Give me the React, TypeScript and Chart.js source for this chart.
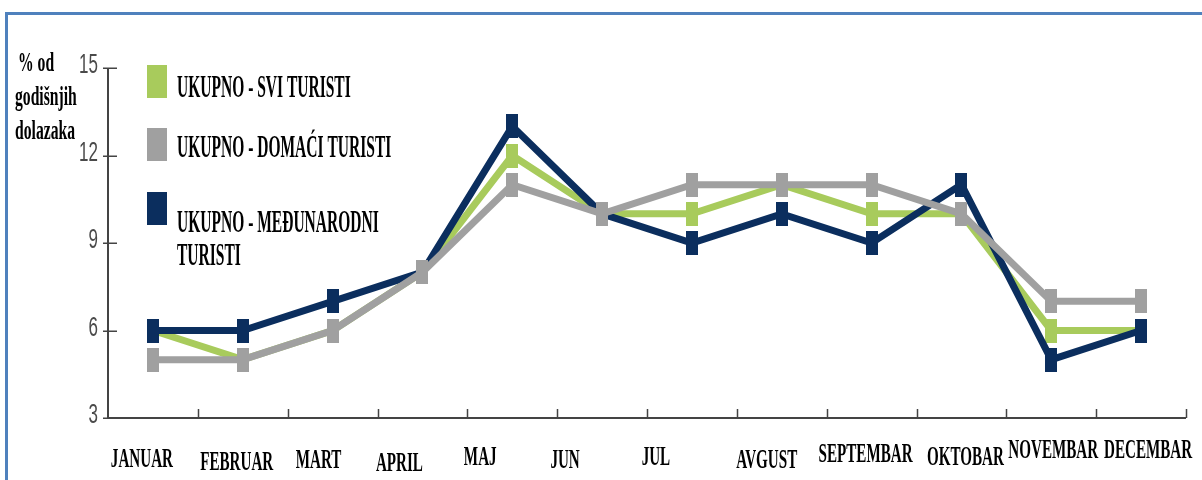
import { useEffect, useRef } from "react";
import { Chart, registerables } from "chart.js";

Chart.register(...registerables);

// ---- data ----
const months = [
  "JANUAR", "FEBRUAR", "MART", "APRIL", "MAJ", "JUN",
  "JUL", "AVGUST", "SEPTEMBAR", "OKTOBAR", "NOVEMBAR", "DECEMBAR",
];
const sviTuristi = [6, 5, 6, 8, 12, 10, 10, 11, 10, 10, 6, 6];
const domaciTuristi = [5, 5, 6, 8, 11, 10, 11, 11, 11, 10, 7, 7];
const medjunarodniTuristi = [6, 6, 7, 8, 13, 10, 9, 10, 9, 11, 5, 6];
const seriesLabels = [
  "UKUPNO - SVI TURISTI",
  "UKUPNO - DOMAĆI TURISTI",
  "UKUPNO - MEĐUNARODNI TURISTI",
];
const yAxisTitle = ["% od", "godišnjih", "dolazaka"];
const yMin = 3;
const yMax = 15;
const yStep = 3;

// ---- styles ----
const GREEN = "#A8CB5C";
const GRAY = "#A0A0A0";
const NAVY = "#0B2E5E";
const SERIF = "'Liberation Serif', 'Times New Roman', serif";
const SANS = "'Liberation Sans', Arial, sans-serif";

function makeMarker(color: string) {
  const c = document.createElement("canvas");
  c.width = 12;
  c.height = 24;
  const g = c.getContext("2d")!;
  g.fillStyle = color;
  g.fillRect(0, 0, 12, 24);
  return c;
}

function drawText(
  ctx: CanvasRenderingContext2D,
  text: string,
  x: number,
  y: number,
  font: string,
  sx: number,
  align: CanvasTextAlign,
  baseline: CanvasTextBaseline,
  color: string
) {
  ctx.save();
  ctx.translate(x, y);
  ctx.scale(sx, 1);
  ctx.font = font;
  ctx.textAlign = align;
  ctx.textBaseline = baseline;
  ctx.fillStyle = color;
  ctx.fillText(text, 0, 0);
  ctx.restore();
}

// small nudges of the month labels as placed in the original figure
const xLabelDx = [-11, -6, -14, -23, -32, -37, -36, -15, -6, 4, 2, 7];
const xLabelBaseline = [467, 470, 468, 471, 465, 468, 465, 468, 462, 465, 458, 458];

const decorPlugin = {
  id: "decor",
  beforeDraw(chart: any) {
    const ctx = chart.ctx as CanvasRenderingContext2D;
    ctx.save();
    ctx.fillStyle = "#ffffff";
    ctx.fillRect(0, 0, chart.width, chart.height);
    ctx.strokeStyle = "#4F81BD";
    ctx.lineWidth = 3;
    ctx.strokeRect(6.5, 13.5, chart.width + 50, chart.height + 50);
    ctx.restore();
  },
  beforeDatasetsDraw(chart: any) {
    const ctx = chart.ctx as CanvasRenderingContext2D;
    const { left, right, top, bottom } = chart.chartArea;
    const xs = chart.scales.x;
    const ys = chart.scales.y;
    ctx.save();
    ctx.strokeStyle = "#444";
    ctx.lineWidth = 2;
    ctx.beginPath();
    ctx.moveTo(left, top);
    ctx.lineTo(left, bottom);
    ctx.moveTo(left - 1, bottom);
    ctx.lineTo(right, bottom);
    ctx.stroke();
    // y ticks crossing the axis
    ctx.lineWidth = 1.5;
    ctx.beginPath();
    ys.ticks.forEach((t: any) => {
      const y = Math.round(ys.getPixelForValue(t.value)) + 0.25;
      ctx.moveTo(left - 5, y);
      ctx.lineTo(left + 9, y);
    });
    ctx.stroke();
    // x ticks at category boundaries, pointing up
    const half = (xs.getPixelForValue(1) - xs.getPixelForValue(0)) / 2;
    ctx.beginPath();
    for (let i = 0; i < months.length; i++) {
      const x = Math.round(xs.getPixelForValue(i) + half) + 0.5;
      ctx.moveTo(x, bottom - 9);
      ctx.lineTo(x, bottom);
    }
    ctx.stroke();
    ctx.restore();
  },
  afterDraw(chart: any) {
    const ctx = chart.ctx as CanvasRenderingContext2D;
    const { left } = chart.chartArea;
    const xs = chart.scales.x;
    const ys = chart.scales.y;

    // y tick labels
    ys.ticks.forEach((t: any) => {
      const y = ys.getPixelForValue(t.value);
      drawText(ctx, String(t.value), left - 10, y - 2, `27px ${SANS}`, 0.63, "right", "middle", "#4a4a4a");
    });

    // x labels
    chart.data.labels.forEach((lab: string, i: number) => {
      const x = xs.getPixelForValue(i) + xLabelDx[i];
      drawText(ctx, lab, x, xLabelBaseline[i], `bold 28px ${SERIF}`, 0.54, "center", "alphabetic", "#000");
    });

    // y axis title
    const titleX = [18, 15, 15];
    const titleY = [71, 105, 139];
    yAxisTitle.forEach((line, i) => {
      drawText(ctx, line, titleX[i], titleY[i], `bold 27px ${SERIF}`, 0.58, "left", "alphabetic", "#000");
    });

    // legend
    const markerTops = [65, 128, 192];
    const baselines = [[97], [157], [232, 265]];
    const font = `bold 32px ${SERIF}`;
    const sx = 0.485;
    const maxW = 218;
    chart.data.datasets.forEach((ds: any, i: number) => {
      ctx.save();
      ctx.fillStyle = ds.borderColor;
      ctx.fillRect(147, markerTops[i], 20, 33);
      ctx.restore();
      // wrap
      ctx.save();
      ctx.font = font;
      const words = String(ds.label).split(" ");
      const lines: string[] = [];
      let cur = "";
      words.forEach((w) => {
        const test = cur ? cur + " " + w : w;
        if (cur && ctx.measureText(test).width * sx > maxW) {
          lines.push(cur);
          cur = w;
        } else cur = test;
      });
      if (cur) lines.push(cur);
      ctx.restore();
      lines.forEach((ln, k) => {
        const by = baselines[i][k] ?? baselines[i][0] + 33 * k;
        drawText(ctx, ln, 177, by, font, sx, "left", "alphabetic", "#000");
      });
    });
  },
};

export default function App() {
  const ref = useRef<HTMLCanvasElement | null>(null);
  useEffect(() => {
    if (!ref.current) return;
    const mk = (label: string, data: number[], color: string, order: number) => ({
      label,
      data,
      borderColor: color,
      backgroundColor: color,
      borderWidth: 7,
      borderJoinStyle: "miter" as const,
      tension: 0,
      pointStyle: makeMarker(color),
      pointRadius: 8,
      pointHoverRadius: 8,
      order,
    });
    const chart = new Chart(ref.current, {
      type: "line",
      data: {
        labels: months,
        datasets: [
          mk(seriesLabels[0], sviTuristi, GREEN, 3),
          mk(seriesLabels[1], domaciTuristi, GRAY, 1),
          mk(seriesLabels[2], medjunarodniTuristi, NAVY, 2),
        ],
      },
      options: {
        responsive: false,
        animation: false,
        events: [],
        layout: { padding: { top: 68, right: 16, left: 0, bottom: 0 } },
        plugins: {
          legend: { display: false },
          tooltip: { enabled: false },
          title: { display: false },
        },
        scales: {
          x: {
            type: "category",
            offset: true,
            grid: { display: false, drawTicks: false },
            border: { display: false },
            ticks: { display: false },
            afterFit: (s: any) => {
              s.height = 62;
            },
          },
          y: {
            min: yMin,
            max: yMax,
            ticks: { stepSize: yStep, display: false },
            grid: { display: false, drawTicks: false },
            border: { display: false },
            afterFit: (s: any) => {
              s.width = 108;
            },
          },
        },
      } as any,
      plugins: [decorPlugin],
    });
    return () => chart.destroy();
  }, []);
  return (
    <div style={{ position: "absolute", left: 0, top: 0, width: 1202, height: 480 }}>
      <canvas ref={ref} width={1202} height={480} style={{ display: "block" }} />
    </div>
  );
}
